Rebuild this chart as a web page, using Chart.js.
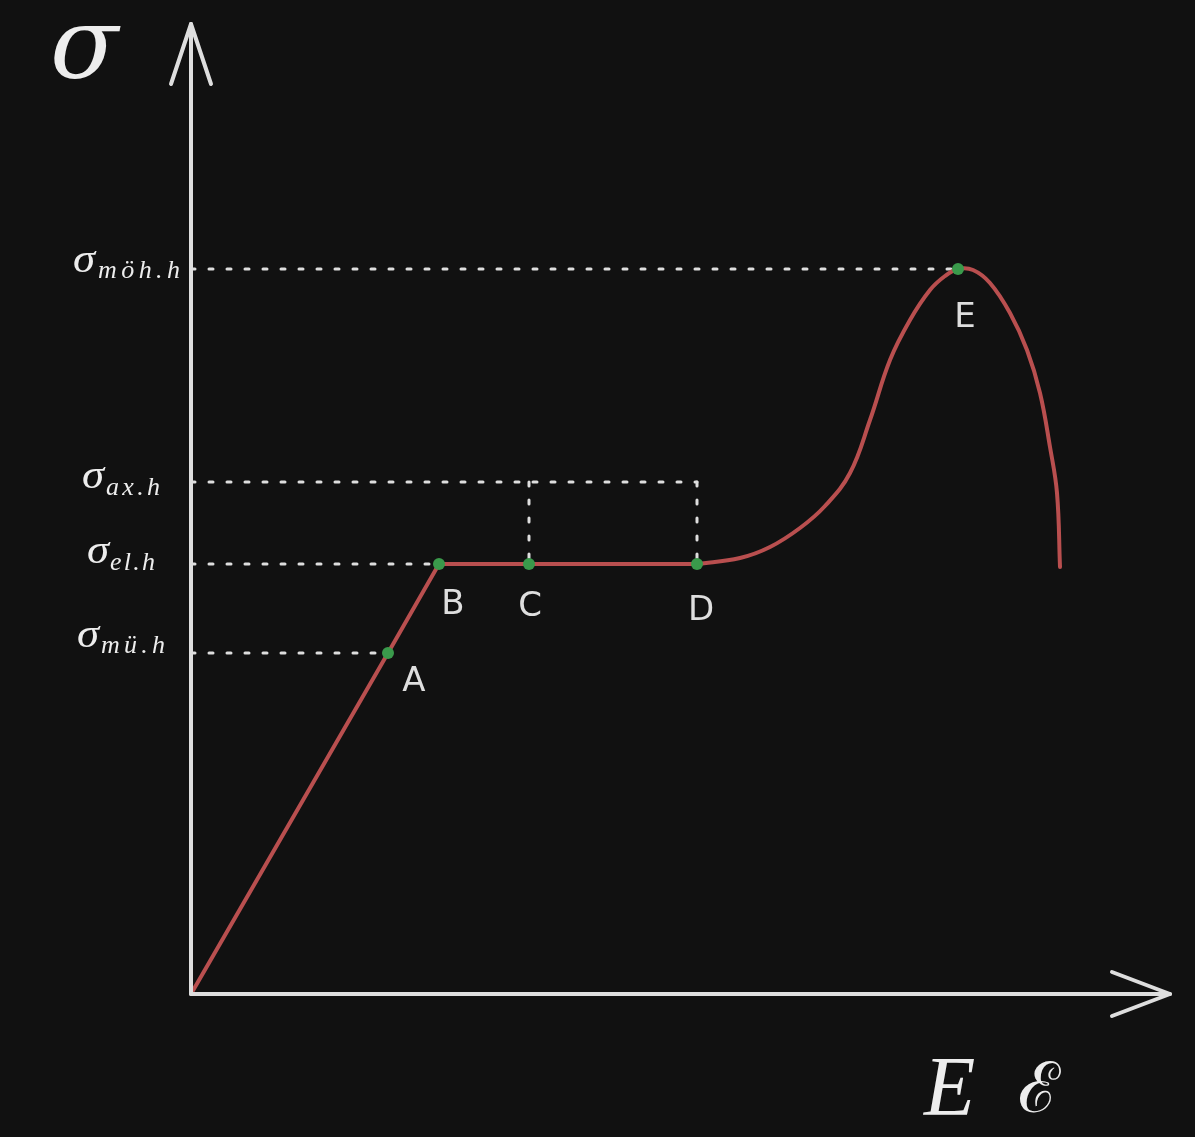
<!DOCTYPE html>
<html>
<head>
<meta charset="utf-8">
<script src="https://cdn.jsdelivr.net/npm/chart.js@4.4.0/dist/chart.umd.min.js"></script>
<style>
  html, body { margin: 0; padding: 0; background: #111111; }
  #wrap { width: 1195px; height: 1137px; }
</style>
</head>
<body>
<div id="wrap"><canvas id="chart" width="1195" height="1137"></canvas></div>
<script>
// elastic + yield part: O, A, B, C, D
const strainLinear = [0, 197, 248, 338, 506];
const stressLinear = [0, 341, 430, 430, 430];

// hardening + necking part, from D past E
const strainCurve = [506, 549, 579, 609, 634, 659, 679, 699, 719, 739, 754, 767, 782, 799, 819, 836, 849, 859, 866, 869];
const stressCurve = [430, 436, 447, 466, 488, 521, 574, 634, 674, 704, 718, 725, 724, 711, 681, 644, 601, 547, 501, 427];

// named points
const pointNames = ['A', 'B', 'C', 'D', 'E'];
const pointStrain = [197, 248, 338, 506, 767];
const pointStress = [341, 430, 430, 430, 725];

// stress levels on the y axis (dotted guides)
const levelNames = ['möh.h', 'ax.h', 'el.h', 'mü.h'];
const levelStress = [725, 512, 430, 341];
const levelStrainEnd = [767, 506, 248, 197];
// vertical dotted drops from σ_ax.h
const dropStrain = [338, 506];

const RED = '#b94f4f';
const GREEN = '#3a9a4b';
const LIGHT = '#dedede';

function zip(xs, ys) {
    return xs.map((x, i) => ({ x: x, y: ys[i] }));
}

const guideDatasets = [];
levelStress.forEach((s, i) => {
    guideDatasets.push({
        data: [{ x: 0, y: s }, { x: levelStrainEnd[i], y: s }],
        borderColor: LIGHT,
        borderWidth: 3,
        borderDash: [4, 14],
        borderCapStyle: 'round',
        pointRadius: 0,
        order: 5,
    });
});
dropStrain.forEach(x => {
    guideDatasets.push({
        data: [{ x: x, y: levelStress[1] }, { x: x, y: levelStress[2] }],
        borderColor: LIGHT,
        borderWidth: 3,
        borderDash: [4, 14],
        borderCapStyle: 'round',
        pointRadius: 0,
        order: 5,
    });
});

// axes arrows, big symbols, level and point labels
const decorPlugin = {
    id: 'decor',
    afterDatasetsDraw(chart) {
        const ctx = chart.ctx;
        const xs = chart.scales.x;
        const ys = chart.scales.y;
        const x0 = xs.getPixelForValue(0);
        const y0 = ys.getPixelForValue(0);
        const xEnd = xs.right;
        const yEnd = ys.top;

        ctx.save();
        ctx.strokeStyle = LIGHT;
        ctx.lineWidth = 4;
        ctx.lineCap = 'round';
        ctx.lineJoin = 'round';

        // vertical axis
        ctx.beginPath();
        ctx.moveTo(x0, y0);
        ctx.lineTo(x0, yEnd + 2);
        ctx.stroke();
        ctx.beginPath();
        ctx.moveTo(x0 - 20, yEnd + 62);
        ctx.lineTo(x0, yEnd + 2);
        ctx.lineTo(x0 + 20, yEnd + 62);
        ctx.stroke();

        // horizontal axis
        ctx.beginPath();
        ctx.moveTo(x0, y0);
        ctx.lineTo(xEnd, y0);
        ctx.stroke();
        ctx.beginPath();
        ctx.moveTo(xEnd - 58, y0 - 22);
        ctx.lineTo(xEnd, y0);
        ctx.lineTo(xEnd - 58, y0 + 22);
        ctx.stroke();

        ctx.fillStyle = '#ededed';
        ctx.textBaseline = 'alphabetic';
        ctx.textAlign = 'left';

        // axis symbols
        ctx.font = 'italic 100px "DejaVu Serif"';
        ctx.fillText('σ', 50, 78);
        ctx.font = 'italic 84px "Liberation Serif"';
        ctx.fillText('E', 924, 1115);
        ctx.font = '70px "DejaVu Serif"';
        ctx.fillText('ℰ', 1018, 1112);

        // level labels
        const sigLeft = [73, 82, 87, 77];
        const subLeft = [98, 106, 110, 101];
        const subRight = [180, 160, 155, 165];
        const sigBase = [3, 6, -1, -6];
        const subBase = [9, 13, 6, 0];
        levelNames.forEach((name, i) => {
            const py = ys.getPixelForValue(levelStress[i]);
            ctx.font = 'italic 40px "Liberation Serif"';
            ctx.save();
            ctx.translate(sigLeft[i], py + sigBase[i]);
            ctx.scale(1.12, 1);
            ctx.fillText('σ', 0, 0);
            ctx.restore();
            ctx.font = 'italic 26px "Liberation Serif"';
            const w = ctx.measureText(name).width;
            const gap = Math.max(0, (subRight[i] - subLeft[i] - w) / (name.length - 1));
            let cx = subLeft[i];
            for (const ch of name) {
                ctx.fillText(ch, cx, py + subBase[i]);
                cx += ctx.measureText(ch).width + gap;
            }
        });

        // point labels
        const labelOffset = [[26, 38], [14, 50], [1, 52], [4, 56], [7, 58]];
        ctx.font = '34px "DejaVu Sans"';
        ctx.fillStyle = LIGHT;
        ctx.textAlign = 'center';
        pointNames.forEach((n, i) => {
            const px = xs.getPixelForValue(pointStrain[i]);
            const py = ys.getPixelForValue(pointStress[i]);
            ctx.fillText(n, px + labelOffset[i][0], py + labelOffset[i][1]);
        });
        ctx.restore();
    }
};

const bgPlugin = {
    id: 'bg',
    beforeDraw(chart) {
        const ctx = chart.ctx;
        ctx.save();
        ctx.fillStyle = '#111111';
        ctx.fillRect(0, 0, chart.width, chart.height);
        ctx.restore();
    }
};

new Chart(document.getElementById('chart'), {
    type: 'line',
    data: {
        datasets: [
            ...guideDatasets,
            {
                data: zip(strainLinear, stressLinear),
                borderColor: RED,
                borderWidth: 4,
                tension: 0,
                pointRadius: 0,
                order: 3,
            },
            {
                data: zip(strainCurve, stressCurve),
                borderColor: RED,
                borderWidth: 4,
                tension: 0.4,
                borderCapStyle: 'round',
                pointRadius: 0,
                order: 3,
            },
            {
                data: zip(pointStrain, pointStress),
                showLine: false,
                pointRadius: 6,
                pointBackgroundColor: GREEN,
                pointBorderWidth: 0,
                order: 1,
            },
        ],
    },
    options: {
        responsive: false,
        animation: false,
        events: [],
        layout: { padding: { left: 191, right: 25, top: 22, bottom: 143 } },
        plugins: {
            legend: { display: false },
            tooltip: { enabled: false },
        },
        scales: {
            x: { type: 'linear', min: 0, max: 979, display: false },
            y: { type: 'linear', min: 0, max: 972, display: false },
        },
    },
    plugins: [bgPlugin, decorPlugin],
});
</script>
</body>
</html>
